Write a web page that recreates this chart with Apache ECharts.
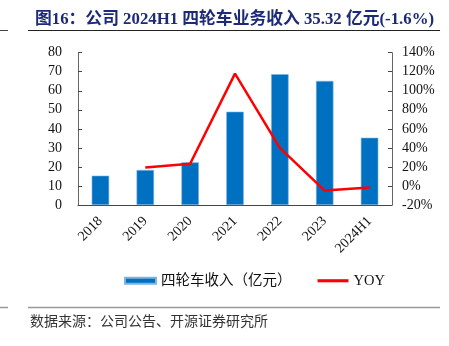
<!DOCTYPE html>
<html><head><meta charset="utf-8">
<script src="https://cdn.jsdelivr.net/npm/echarts@6/dist/echarts.min.js"></script>
<style>html,body{margin:0;padding:0;background:#fff}#c{width:449px;height:346px}</style>
</head><body><div id="c"></div>
<script>
const categories = ['2018','2019','2020','2021','2022','2023','2024H1'];
const revenue = [15.4, 18.4, 22.4, 49.0, 68.7, 65.2, 35.32];
const yoy = [null, 19.3, 23.3, 118.0, 40.0, -4.8, -1.6];
const leftTicks = [0,10,20,30,40,50,60,70,80];
const rightTicks = [-20,0,20,40,60,80,100,120,140];

const serif = '"Liberation Serif","Times New Roman","Noto Sans CJK SC",serif';
const chart = echarts.init(document.getElementById('c'));
chart.setOption({
  animation: false,
  title: {
    text: '图16：公司 2024H1 四轮车业务收入 35.32 亿元(-1.6%)',
    left: 30, top: 6,
    textStyle: {color: '#1c2a78', fontSize: 16.8, fontWeight: 'bold', fontFamily: serif}
  },
  graphic: [
    {type:'line', shape:{x1:28,y1:30.5,x2:440,y2:30.5}, style:{stroke:'#222',lineWidth:1}},
    {type:'line', shape:{x1:0,y1:30.5,x2:8,y2:30.5}, style:{stroke:'#444',lineWidth:1}},
    {type:'line', shape:{x1:28,y1:307.5,x2:440,y2:307.5}, style:{stroke:'#999',lineWidth:1.5}},
    {type:'line', shape:{x1:0,y1:307.5,x2:8,y2:307.5}, style:{stroke:'#999',lineWidth:1.5}},
    {type:'text', left:30, top:314, style:{text:'数据来源：公司公告、开源证券研究所', fill:'#333', font:'14px "Noto Sans CJK SC", sans-serif'}}
  ],
  legend: {
    bottom: 53, left: 119, itemGap: 26,
    textStyle: {fontFamily: serif, fontSize: 14.5, color: '#111'},
    data: [
      {name: '四轮车收入（亿元）', icon: 'rect', itemStyle:{color:'#0070C0'}},
      {name: 'YOY', icon: 'path://M0,0 L10,0 L10,1 L0,1 Z', itemStyle:{color:'#ff0000'}}
    ],
    itemWidth: 31, itemHeight: 6
  },
  grid: {left: 78, right: 57, top: 52.7, bottom: 141},
  xAxis: {
    type: 'category', data: categories,
    axisLine: {lineStyle:{color:'#444'}},
    axisTick: {inside: true, alignWithLabel: false, lineStyle:{color:'#444'}, length: 4},
    axisLabel: {rotate: 45, fontFamily: serif, fontSize: 14, color: '#111', margin: 14}
  },
  yAxis: [
    {type:'value', min:0, max:80, interval:10, position:'left',
     axisLine:{show:true, lineStyle:{color:'#666'}},
     axisTick:{show:true, inside:true, length:4, lineStyle:{color:'#444'}},
     splitLine:{show:false},
     axisLabel:{fontFamily:serif, fontSize:14, color:'#111', margin:16}},
    {type:'value', min:-20, max:140, interval:20, position:'right',
     axisLine:{show:true, lineStyle:{color:'#666'}},
     axisTick:{show:true, inside:true, length:4, lineStyle:{color:'#444'}},
     splitLine:{show:false},
     axisLabel:{fontFamily:serif, fontSize:14, color:'#111', margin:10, formatter:'{value}%'}}
  ],
  series: [
    {name:'四轮车收入（亿元）', type:'bar', data: revenue, barWidth:'39%', yAxisIndex:0,
     itemStyle:{color:'#0070C0', borderColor:'#7fb3e0', borderWidth:0.6}},
    {name:'YOY', type:'line', data: yoy, yAxisIndex:1, symbol:'none',
     lineStyle:{color:'#ff0000', width:2.5}, itemStyle:{color:'#ff0000'}}
  ]
});
</script></body></html>
